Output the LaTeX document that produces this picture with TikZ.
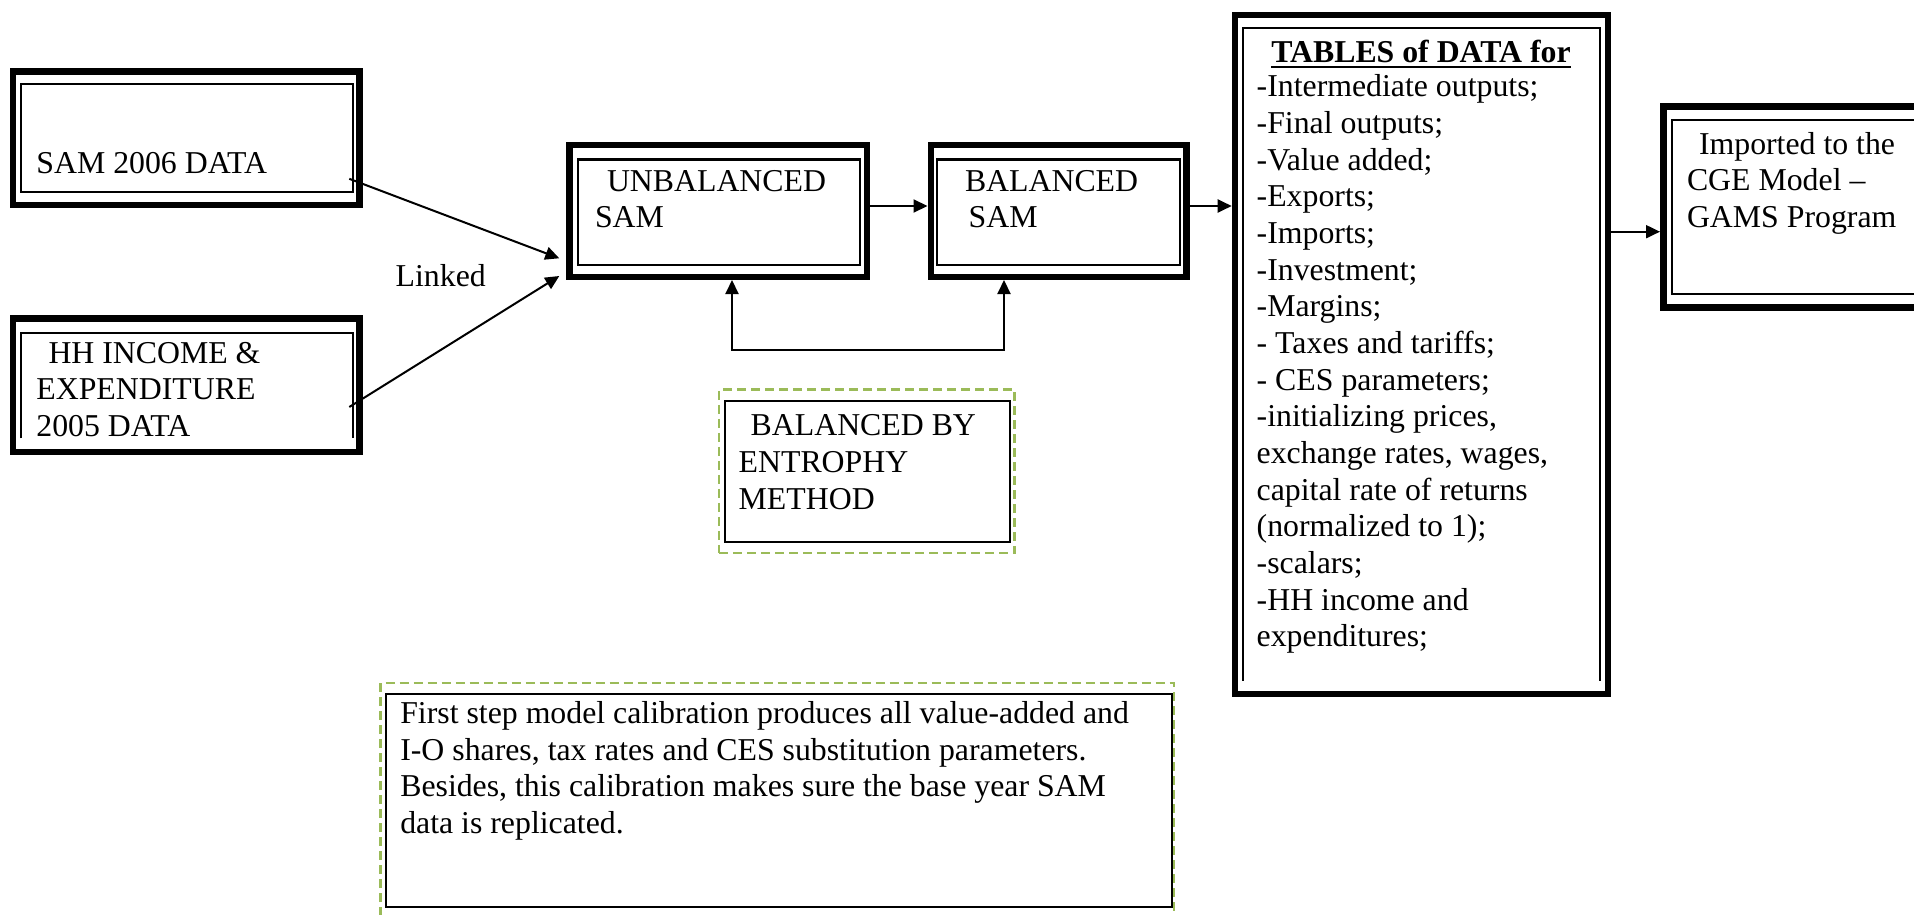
\documentclass[tikz,border=0pt]{standalone}
\usepackage{fontspec}
\setmainfont{Liberation Serif}
\usetikzlibrary{arrows.meta}
\newcommand\labelfont{\fontsize{31.8}{36.7}\selectfont}
\definecolor{framegreen}{RGB}{155,187,89}
\begin{document}
\begin{tikzpicture}[x=1pt,y=-1pt,
  heavybox/.style={draw, rectangle, line width=6.5pt, inner sep=0pt},
  plainbox/.style={draw, rectangle, line width=2pt, inner sep=0pt},
  thinline/.style={line width=2pt},
  greendash/.style={draw=framegreen, line width=2.5pt, dash pattern=on 9pt off 5pt},
  txt/.style={inner sep=0pt, outer sep=0pt, anchor=base west, font=\labelfont},
  conn/.style={line width=2pt, -{Triangle[length=14pt,width=13pt]}},
  biconn/.style={line width=2pt, {Triangle[length=14pt,width=13pt]}-{Triangle[length=14pt,width=13pt]}},
]
\useasboundingbox (0,0) rectangle (1914,915);

% --- source data boxes ---
\node[heavybox, minimum width=346.6pt, minimum height=133.5pt] (sam) at (186.15,138.3) {};
\draw[thinline] (20.9,84.3) rectangle (352.5,191.7);
\node[txt] (samtxt) at (36.4,173) {SAM 2006 DATA};

\node[heavybox, minimum width=346.6pt, minimum height=133.5pt] (hh) at (186.15,385) {};
\draw[thinline] (20.9,438.3) -- (20.9,332.5) -- (352.5,332.5) -- (352.5,438.3);
\node[txt] (hh1) at (48.5,363) {HH INCOME \&};
\node[txt] (hh2) at (36.4,399) {EXPENDITURE};
\node[txt] (hh3) at (36.4,436) {2005 DATA};

% --- SAM boxes ---
\node[heavybox, minimum width=297.5pt, minimum height=131.5pt] (unb) at (718,211) {};
\draw[thinline] (578.2,159.5) rectangle (860,265.3);
\node[txt] (unb1) at (607,191) {UNBALANCED};
\node[txt] (unb2) at (595,227.7) {SAM};

\node[heavybox, minimum width=255.6pt, minimum height=131.5pt] (bal) at (1058.55,211) {};
\draw[thinline] (937,159.5) rectangle (1180,265.3);
\node[txt] (bal1) at (965,191) {BALANCED};
\node[txt] (bal2) at (968.6,227.7) {SAM};

% --- entropy method note ---
\node[greendash, minimum width=295.7pt, minimum height=163.3pt] (entframe) at (866.85,471.15) {};
\node[plainbox, minimum width=285.5pt, minimum height=140.7pt] (ent) at (867.25,471.35) {};
\node[txt] (ent1) at (750.7,435) {BALANCED BY};
\node[txt] (ent2) at (738.7,472) {ENTROPHY};
\node[txt] (ent3) at (738.7,509) {METHOD};

% --- tables of data ---
\node[heavybox, minimum width=372.8pt, minimum height=678.8pt] (tab) at (1421.35,354.35) {};
\draw[thinline] (1243,680.7) -- (1243,28.3) -- (1599.8,28.3) -- (1599.8,680.7);
\node[inner sep=0pt, outer sep=0pt, anchor=base, font=\labelfont\bfseries] (title) at (1421,63) {TABLES of DATA for};
\draw[line width=2pt] ([yshift=-4.5pt]title.base west) -- ([yshift=-4.5pt]title.base east);
\foreach \s [count=\i from 0] in {
  {-Intermediate outputs;},
  {-Final outputs;},
  {-Value added;},
  {-Exports;},
  {-Imports;},
  {-Investment;},
  {-Margins;},
  {- Taxes and tariffs;},
  {- CES parameters;},
  {-initializing prices,},
  {exchange rates, wages,},
  {capital rate of returns},
  {(normalized to 1);},
  {-scalars;},
  {-HH income and},
  {expenditures;}}
  \node[txt] (tl\i) at (1256.7,{96.7+36.67*\i}) {\s};

% --- CGE model box ---
\node[heavybox, minimum width=273.5pt, minimum height=200.9pt] (imp) at (1800,207) {};
\draw[thinline] (1930,119.8) -- (1672,119.8) -- (1672,294) -- (1930,294);
\node[txt] (imp1) at (1699,154) {Imported to the};
\node[txt] (imp2) at (1687,190.7) {CGE Model –};
\node[txt] (imp3) at (1687,227.3) {GAMS Program};

% --- calibration note ---
\draw[greendash] (380.6,930) -- (380.6,682.9) -- (1174.2,682.9) -- (1174.2,930);
\node[plainbox, minimum width=786.2pt, minimum height=213pt] (cal) at (778.7,800.2) {};
\node[txt] (cal1) at (400.3,723.3) {First step model calibration produces all value-added and};
\node[txt] (cal2) at (400.3,760) {I-O shares, tax rates and CES substitution parameters.};
\node[txt] (cal3) at (400.3,796.7) {Besides, this calibration makes sure the base year SAM};
\node[txt] (cal4) at (400.3,833.3) {data is replicated.};

% --- connectors ---
\coordinate (samtail) at (349.3,178.8);
\coordinate (hhtail) at (349.3,407);
\coordinate (unbtipA) at (559.3,258.3);
\coordinate (unbtipB) at (559.3,276);
\draw[conn] (samtail) -- (unbtipA);
\draw[conn] (hhtail) -- (unbtipB);
\node[txt] (linked) at (395.7,286) {Linked};

\coordinate (rowA) at (0,206);
\coordinate (rowB) at (0,231.7);
\draw[conn] (unb.east |- rowA) -- (bal.west |- rowA);
\draw[conn] (bal.east |- rowA) -- (tab.west |- rowA);
\draw[conn] (tab.east |- rowB) -- (imp.west |- rowB);

\coordinate (fbL) at (732,350);
\coordinate (fbR) at (1004,350);
\draw[biconn] (unb.south -| fbL) -- (fbL) -- (fbR) -- (bal.south -| fbR);
\end{tikzpicture}
\end{document}
